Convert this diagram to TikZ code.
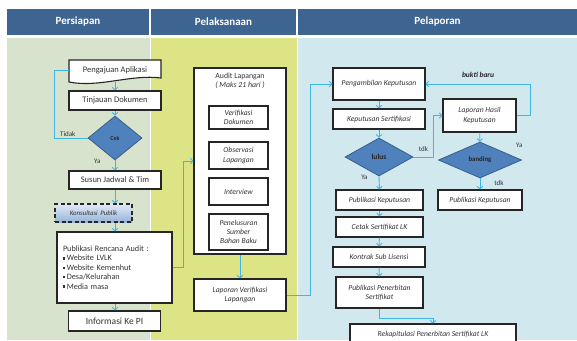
\documentclass[tikz,border=0pt]{standalone}
\usepackage{fontspec}
\setmainfont{Carlito}
\usetikzlibrary{shapes.geometric,arrows.meta}
\definecolor{headblue}{RGB}{62,100,146}
\definecolor{prepgreen}{RGB}{215,227,204}
\definecolor{execyellow}{RGB}{220,228,134}
\definecolor{reportblue}{RGB}{208,232,238}
\definecolor{linkblue}{RGB}{64,182,230}
\definecolor{decfill}{RGB}{79,129,189}
\definecolor{decdraw}{RGB}{56,93,138}
\definecolor{consulttop}{RGB}{225,234,246}
\definecolor{consultbot}{RGB}{150,180,218}
\newcommand{\sqbullet}{\rule[0.35ex]{2.4pt}{2.4pt}\,}
\tikzset{headcell/.style={fill=headblue, text=white, font=\bfseries\fontsize{11}{13}\selectfont,
                          minimum height=26pt, inner sep=0pt},
        procbox/.style={draw=black!85, line width=1.1pt, fill=white, text=black!80,
                        font=\fontsize{8.5}{10}\selectfont, align=center, inner sep=1pt},
        italbox/.style={procbox, font=\itshape\fontsize{7.6}{9.2}\selectfont},
        consult/.style={procbox, dash pattern=on 4pt off 2.5pt, line width=1.2pt,
                        top color=consulttop, bottom color=consultbot,
                        font=\itshape\fontsize{6.8}{8}\selectfont},
        decision/.style={diamond, draw=decdraw, line width=0.8pt, fill=decfill, inner sep=0pt,
                         font=\bfseries\fontsize{7.5}{9}\selectfont, text=black!85},
        flowline/.style={draw=linkblue, line width=0.9pt},
        flowarrow/.style={flowline, -{Straight Barb[length=2.5pt,width=5.5pt]}},
        lbl/.style={font=\fontsize{7}{8}\selectfont, text=black!80, inner sep=1pt},
        }

\begin{document}
\begin{tikzpicture}[x=1pt,y=-1pt]
    \useasboundingbox (0,0) rectangle (577,340);
    \fill[prepgreen] (7,38) rectangle (150,340);
    \fill[execyellow] (151,38) rectangle (296.5,340);
    \fill[reportblue] (297.5,38) rectangle (577,340);
    \node[headcell, minimum width=142pt] (hprep) at (78,22) {Persiapan};
    \node[headcell, minimum width=145pt] (hexec) at (223.5,22) {Pelaksanaan};
    \node[headcell, minimum width=279pt] (hreport) at (437.5,22) {Pelaporan};

    % Persiapan
    \draw[draw=black!85, line width=1.1pt, fill=white] (69,60) -- (161,60) -- (161,78)
        .. controls (131,74) and (99,88) .. (69,82) -- cycle;
    \node[minimum width=92pt, minimum height=18pt, inner sep=0pt, text=black!80,
          font=\fontsize{8.5}{10}\selectfont] (aplikasi) at (115,70) {Pengajuan Aplikasi};
    \node[procbox, minimum width=92pt, minimum height=19pt] (tinjauan) at (115,100.5) {Tinjauan Dokumen};
    \node[decision, minimum width=54pt, minimum height=44pt,
          font=\bfseries\fontsize{6}{7}\selectfont] (cek) at (115,138) {Cek};
    \node[procbox, minimum width=92pt, minimum height=18pt] (susun) at (115,180) {Susun Jadwal \& Tim};
    \node[consult, minimum width=77pt, minimum height=18pt] (konsultasi) at (93.5,213) {Konsultasi\, Publik};
    \node[procbox, minimum width=115pt, minimum height=71pt, text width=103pt, align=left,
          font=\fontsize{8.2}{9.4}\selectfont] (pubaudit) at (114.5,267.5)
          {Publikasi Rencana Audit :\\ \sqbullet Website LVLK\\ \sqbullet Website Kemenhut\\
           \sqbullet Desa/Kelurahan\\ \sqbullet Media masa};
    \node[procbox, minimum width=92pt, minimum height=20pt,
          font=\fontsize{9.5}{11}\selectfont] (informasi) at (114.5,321) {Informasi Ke PI};

    \draw[flowarrow] ([yshift=-3pt]aplikasi.south) -- (tinjauan.north);
    \draw[flowarrow] (tinjauan) -- (cek);
    \draw[flowline] (cek.west) -- ++(-33,0) node[lbl, pos=0.6, above]{Tidak} |- (aplikasi.west);
    \draw[flowarrow] (cek.south) -- (susun.north) node[lbl, pos=0.05, left=13pt]{Ya};
    \draw[flowarrow] (susun.south) -- (susun.south |- konsultasi.north);
    \draw[flowarrow] (susun.south |- konsultasi.south) -- (susun.south |- pubaudit.north);
    \draw[flowarrow] (pubaudit.south -| susun.south) -- (informasi.north -| susun.south);

    % Pelaksanaan
    \node[procbox, minimum width=92pt, minimum height=186pt] (audit) at (240,161) {};
    \node[text=black!80, font=\fontsize{7.8}{9}\selectfont, align=center] (audittitle) at (240,80.5)
          {Audit Lapangan\\\textit{( Maks 21 hari )}};
    \node[italbox, minimum width=59pt, minimum height=23pt] (verifikasi) at (238.5,117.5) {Verifikasi\\Dokumen};
    \node[italbox, minimum width=59pt, minimum height=27pt] (observasi) at (238.5,155.5) {Observasi\\Lapangan};
    \node[italbox, minimum width=59pt, minimum height=27pt] (interview) at (238.5,191.5) {Interview};
    \node[italbox, minimum width=59pt, minimum height=36pt, font=\itshape\fontsize{7.6}{8.8}\selectfont]
          (penelusuran) at (238.5,232) {Penelusuran\\Sumber\\Bahan Baku};
    \node[italbox, minimum width=92pt, minimum height=32pt] (lapver) at (240,295) {Laporan Verifikasi\\Lapangan};

    \draw[flowarrow] (pubaudit.east) -- ++(11,0) |- (audit.west);
    \draw[flowarrow] (audit) -- (lapver);

    % Pelaporan
    \node[italbox, minimum width=92pt, minimum height=32pt] (ambil) at (379,84) {Pengambilan Keputusan};
    \node[italbox, minimum width=92pt, minimum height=20pt] (keputusan) at (379,119) {Keputusan Sertifikasi};
    \node[decision, minimum width=68pt, minimum height=38pt] (lulus) at (379,157) {lulus};
    \node[italbox, minimum width=73pt, minimum height=33pt] (hasil) at (479.5,115.5) {Laporan Hasil\\Keputusan};
    \node[decision, minimum width=83pt, minimum height=36pt, font=\bfseries\fontsize{6.8}{8}\selectfont,
          label={[lbl, xshift=14pt, yshift=2pt]north east:Ya}] (banding) at (480,160) {banding};
    \node[italbox, minimum width=87pt, minimum height=20pt] (pubkepya) at (379.5,200) {Publikasi Keputusan};
    \node[italbox, minimum width=84pt, minimum height=20pt] (pubkeptdk) at (480,200) {Publikasi Keputusan};
    \node[italbox, minimum width=87pt, minimum height=20pt] (cetak) at (379.5,227) {Cetak Sertifikat LK};
    \node[italbox, minimum width=92pt, minimum height=20pt] (kontrak) at (379,257) {Kontrak Sub Lisensi};
    \node[italbox, minimum width=87pt, minimum height=31pt] (pubterbit) at (379.5,292.5) {Publikasi Penerbitan\\Sertifikat};
    \node[italbox, minimum width=166pt, minimum height=20pt] (rekap) at (433,334) {Rekapitulasi Penerbitan Sertifikat LK};

    \draw[flowarrow] (lapver.east) -- ++(24,0) |- (ambil.west);
    \draw[flowarrow] (ambil) -- (keputusan);
    \draw[flowarrow] (keputusan) -- (lulus);
    \draw[flowarrow] (lulus.east) -- ++(20,0) node[lbl, pos=0.5, above=4pt]{tdk} |- (hasil.west);
    \draw[flowarrow] (hasil.east) -- ++(14,0) |- (ambil.east)
        node[pos=0.75, above=3pt, font=\bfseries\itshape\fontsize{7.5}{9}\selectfont, text=black!85]{bukti baru};
    \draw[flowarrow] (hasil) -- (banding);
    \draw[flowarrow] (banding.south) -- (pubkeptdk.north) node[lbl, pos=0.4, right=13pt]{tdk};
    \draw[flowarrow] (lulus.south) -- (pubkepya.north) node[lbl, pos=0.05, left=10pt]{Ya};
    \draw[flowarrow] (pubkepya) -- (cetak);
    \draw[flowarrow] (cetak) -- (kontrak);
    \draw[flowarrow] (kontrak) -- (pubterbit);
    \draw[flowarrow] (pubterbit.south) -- ++(0,10) -| (rekap.north);

\end{tikzpicture}
\end{document}
